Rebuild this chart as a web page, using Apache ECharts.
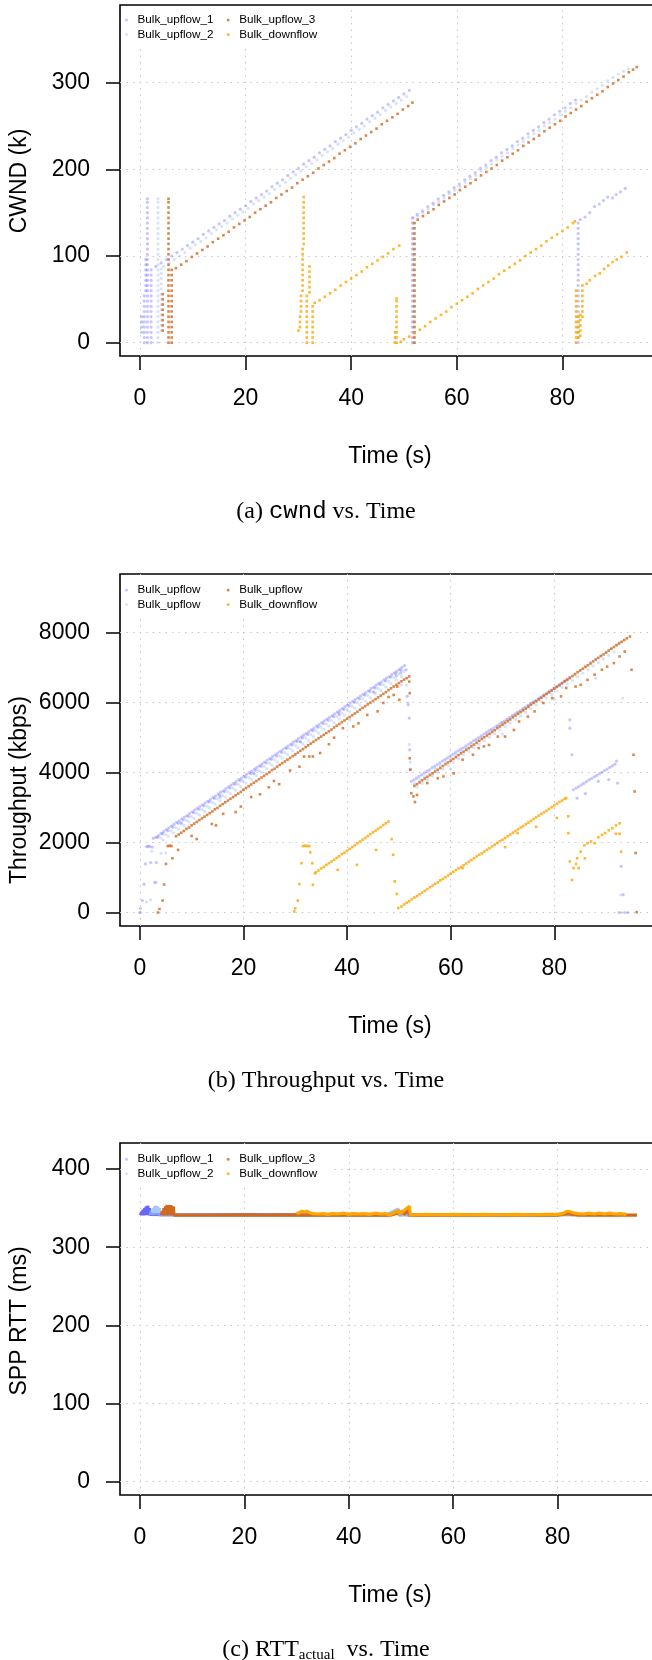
<!DOCTYPE html>
<html><head><meta charset="utf-8">
<script src="https://cdn.jsdelivr.net/npm/echarts@6/dist/echarts.min.js"></script>
<style>html,body{margin:0;padding:0;background:#fff}#c{width:652px;height:1660px}</style>
</head><body><div id="c"></div>
<script>
// ---------- tick labels / names ----------
const X_TICKS = [0, 20, 40, 60, 80];
const CWND_TICKS = [0, 100, 200, 300];
const THR_TICKS = [0, 2000, 4000, 6000, 8000];
const RTT_TICKS = [0, 100, 200, 300, 400];
const NAMES = ['Bulk_upflow_1', 'Bulk_upflow_2', 'Bulk_upflow_3', 'Bulk_downflow'];
const Y_TITLES = ['CWND (k)', 'Throughput (kbps)', 'SPP RTT (ms)'];

// ---------- (a) CWND (k) ----------
const cwndUp1 = [
[0.3,12],[0.3,18],[0.3,24],[0.3,30],
[0.8,0],[0.8,6],[0.8,12],[0.8,18],[0.8,24],[0.8,30],[0.8,36],[0.8,42],[0.8,48],[0.8,54],
[1.1,60],[1.1,66],[1.1,72],[1.1,78],[1.1,84],[1.1,90],[1.1,96],
[1.4,0],[1.4,6],[1.4,12],[1.4,18],[1.4,24],[1.4,30],[1.4,36],[1.4,42],[1.4,48],[1.4,54],[1.4,60],[1.4,66],[1.4,72],[1.4,78],[1.4,84],[1.4,90],[1.4,96],[1.4,102],[1.4,108],[1.4,114],[1.4,120],[1.4,126],[1.4,132],[1.4,138],[1.4,144],[1.4,150],[1.4,156],[1.4,162],[1.4,166],
[2.1,0],[2.1,6],[2.1,12],[2.1,18],[2.1,24],[2.1,30],[2.1,36],[2.1,42],[2.1,48],[2.1,54],[2.1,60],[2.1,66],[2.1,72],[2.1,78],[2.1,84],
[3.0,88],[4.0,92],[5.0,96],[6.0,100],[7.0,104],[8.0,108],[9.0,112],[10.0,116],[11.0,120],[12.0,125],[13.0,129],[14.0,133],[15.0,137],[16.0,141],[17.0,146],[18.0,150],[19.0,154],[20.0,158],[21.0,163],[22.0,167],[23.0,171],[24.0,175],[25.0,180],[26.0,184],[27.0,188],[28.0,193],[29.0,197],[30.0,201],[31.0,206],[32.0,210],[33.0,214],[34.0,219],[35.0,223],[36.0,227],[37.0,232],[38.0,236],[39.0,240],[40.0,245],[41.0,249],[42.0,253],[43.0,258],[44.0,262],[45.0,266],[46.0,271],[47.0,275],[48.0,279],[49.0,283],[50.0,287],[51.0,291],
[51.6,0],[51.6,6],[51.6,12],[51.6,18],[51.6,24],[51.6,30],[51.6,36],[51.6,42],[51.6,48],[51.6,54],[51.6,60],[51.6,66],[51.6,72],[51.6,78],[51.6,84],[51.6,90],[51.6,96],[51.6,102],[51.6,108],[51.6,114],[51.6,120],[51.6,126],[51.6,132],[51.6,138],[51.6,144],
[52.5,148],[53.5,152],[54.5,157],[55.5,161],[56.5,166],[57.5,170],[58.5,174],[59.5,179],[60.5,183],[61.5,188],[62.5,192],[63.5,196],[64.5,201],[65.5,205],[66.5,210],[67.5,214],[68.5,219],[69.5,223],[70.5,227],[71.5,232],[72.5,236],[73.5,241],[74.5,245],[75.5,249],[76.5,254],[77.5,258],[78.5,263],[79.5,267],[80.5,271],[81.5,276],[82.5,280],
[83.0,0],[83.0,6],[83.0,12],[83.0,18],[83.0,24],[83.0,30],[83.0,36],[83.0,42],[83.0,48],[83.0,54],[83.0,60],[83.0,66],[83.0,72],[83.0,78],[83.0,84],[83.0,90],[83.0,96],[83.0,102],[83.0,108],[83.0,114],[83.0,120],[83.0,126],[83.0,132],[83.0,138],
[83.4,142],[84.3,145],[85.2,150],[86.1,157],[87.0,160],[87.8,164],[88.6,168],[89.5,167],[90.2,171],[91.0,174],[91.9,178]
];
const cwndUp2 = [
[3.4,0],[3.4,6],[3.4,12],[3.4,18],[3.4,24],[3.4,30],[3.4,36],[3.4,42],[3.4,48],[3.4,54],[3.4,60],[3.4,66],[3.4,72],[3.4,78],[3.4,84],[3.4,90],[3.4,96],[3.4,102],[3.4,108],[3.4,114],[3.4,120],[3.4,126],[3.4,132],[3.4,138],[3.4,144],[3.4,150],[3.4,156],[3.4,162],[3.4,166],
[4.0,14],[4.0,20],[4.0,26],[4.0,32],[4.0,38],[4.0,44],[4.0,50],[4.0,56],[4.0,62],[4.0,68],[4.0,74],[4.0,80],[4.0,85],
[4.5,88],[5.5,92],[6.5,96],[7.5,100],[8.5,104],[9.5,109],[10.5,113],[11.5,117],[12.5,121],[13.5,126],[14.5,130],[15.5,134],[16.5,138],[17.5,143],[18.5,147],[19.5,151],[20.5,155],[21.5,160],[22.5,164],[23.5,168],[24.5,172],[25.5,177],[26.5,181],[27.5,185],[28.5,190],[29.5,194],[30.5,198],[31.5,203],[32.5,207],[33.5,211],[34.5,216],[35.5,220],[36.5,224],[37.5,229],[38.5,233],[39.5,237],[40.5,242],[41.5,246],[42.5,250],[43.5,255],[44.5,259],[45.5,263],[46.5,268],[47.5,272],[48.5,276],[49.5,280],[50.5,284],
[51.8,0],[51.8,6],[51.8,12],[51.8,18],[51.8,24],[51.8,30],[51.8,36],[51.8,42],[51.8,48],[51.8,54],[51.8,60],[51.8,66],[51.8,72],[51.8,78],[51.8,84],[51.8,90],[51.8,96],[51.8,102],[51.8,108],[51.8,114],[51.8,120],[51.8,126],[51.8,132],[51.8,138],[51.8,144],
[52.6,146],[53.6,150],[54.6,154],[55.6,159],[56.6,163],[57.6,167],[58.6,172],[59.6,176],[60.6,180],[61.6,185],[62.6,189],[63.6,193],[64.6,198],[65.6,202],[66.6,206],[67.6,211],[68.6,215],[69.6,219],[70.6,224],[71.6,228],[72.6,232],[73.6,237],[74.6,241],[75.6,245],[76.6,250],[77.6,254],[78.6,258],[79.6,263],[80.6,267],[81.6,271],[82.6,276],[83.6,280],[84.6,284],[85.6,289],[86.6,293],[87.6,297],[88.6,302],[89.6,306],[90.6,310],[91.6,313],[92.5,316]
];
const cwndUp3 = [
[4.3,14],[4.3,20],[4.3,26],[4.3,32],[4.3,38],[4.3,44],[4.3,50],[4.3,56],
[5.4,0],[5.4,6],[5.4,12],[5.4,18],[5.4,24],[5.4,30],[5.4,36],[5.4,42],[5.4,48],[5.4,54],[5.4,60],[5.4,66],[5.4,72],[5.4,78],[5.4,84],[5.4,90],[5.4,96],[5.4,102],[5.4,108],[5.4,114],[5.4,120],[5.4,126],[5.4,132],[5.4,138],[5.4,144],[5.4,150],[5.4,156],[5.4,162],[5.4,166],
[6.0,0],[6.0,6],[6.0,12],[6.0,18],[6.0,24],[6.0,30],[6.0,36],[6.0,42],[6.0,48],[6.0,54],[6.0,60],[6.0,66],[6.0,72],[6.0,78],[6.0,84],
[6.8,86],[7.8,90],[8.8,94],[9.8,99],[10.8,103],[11.8,107],[12.8,111],[13.8,116],[14.8,120],[15.8,124],[16.8,128],[17.8,133],[18.8,137],[19.8,141],[20.8,145],[21.8,150],[22.8,154],[23.8,158],[24.8,162],[25.8,167],[26.8,171],[27.8,175],[28.8,179],[29.8,184],[30.8,188],[31.8,192],[32.8,196],[33.8,201],[34.8,205],[35.8,209],[36.8,213],[37.8,218],[38.8,222],[39.8,226],[40.8,230],[41.8,235],[42.8,239],[43.8,243],[44.8,247],[45.8,252],[46.8,256],[47.8,260],[48.8,264],[49.8,269],[50.8,273],[51.6,277],
[52.0,0],[52.0,6],[52.0,12],[52.0,18],[52.0,24],[52.0,30],[52.0,36],[52.0,42],[52.0,48],[52.0,54],[52.0,60],[52.0,66],[52.0,72],[52.0,78],[52.0,84],[52.0,90],[52.0,96],[52.0,102],[52.0,108],[52.0,114],[52.0,120],[52.0,126],[52.0,132],[52.0,138],
[52.6,142],[53.6,146],[54.6,150],[55.6,154],[56.6,159],[57.6,163],[58.6,167],[59.6,171],[60.6,176],[61.6,180],[62.6,184],[63.6,188],[64.6,193],[65.6,197],[66.6,201],[67.6,205],[68.6,210],[69.6,214],[70.6,218],[71.6,222],[72.6,227],[73.6,231],[74.6,235],[75.6,239],[76.6,244],[77.6,248],[78.6,252],[79.6,256],[80.6,261],[81.6,265],[82.6,269],[83.6,273],[84.6,278],[85.6,282],[86.6,286],[87.6,290],[88.6,295],[89.6,299],[90.6,303],[91.6,307],[92.6,312],[93.4,315],[94.1,318]
];
const cwndDown = [
[30.0,14],[30.3,18],[30.3,24],[30.3,30],[30.5,36],[30.5,42],[30.5,48],[30.5,54],
[30.8,60],[30.8,66],[30.8,72],[30.8,78],[30.8,84],[30.8,90],[30.8,96],[30.8,102],[30.8,108],
[31.0,114],[31.0,120],[31.0,126],[31.0,132],[31.0,138],[31.0,144],[31.0,150],[31.0,156],[31.0,162],[31.0,168],
[31.6,0],[31.6,6],[31.6,12],[31.6,18],[31.6,24],[31.6,30],[31.6,36],[31.6,42],[31.6,48],[31.6,54],
[32.1,58],[32.1,64],[32.1,70],[32.1,76],[32.1,82],[32.1,88],
[32.7,0],[32.7,6],[32.7,12],[32.7,18],[32.7,24],[32.7,30],[32.7,36],[32.7,42],
[33.1,46],[34.0,49],[35.0,53],[36.0,57],[37.0,61],[38.0,66],[39.0,70],[40.0,74],[41.0,78],[42.0,82],[43.0,87],[44.0,91],[45.0,95],[46.0,99],[47.0,103],[48.0,108],[49.1,112],
[48.3,0],[48.3,6],[48.3,12],[48.6,0],[48.6,6],[48.6,12],[48.6,18],[48.6,24],[48.6,30],[48.6,36],[48.6,42],[48.6,48],[48.6,51],
[49.4,1],[50.0,4],[51.0,7],[52.0,11],[53.0,15],[54.0,19],[55.0,24],[56.0,28],[57.0,32],[58.0,36],[59.0,41],[60.0,45],[61.0,49],[62.0,53],[63.0,57],[64.0,62],[65.0,66],[66.0,70],[67.0,74],[68.0,79],[69.0,83],[70.0,87],[71.0,91],[72.0,95],[73.0,100],[74.0,104],[75.0,108],[76.0,112],[77.0,117],[78.0,121],[79.0,125],[80.0,129],[81.0,133],[82.0,138],[82.4,140],
[82.6,0],[82.6,6],[82.6,12],[82.6,18],[82.6,24],[82.6,30],[82.6,36],[82.6,42],[82.6,48],[82.6,54],[82.6,60],
[83.0,6],[83.0,12],[83.0,18],[83.0,24],[83.0,30],
[83.4,8],[83.4,14],[83.4,20],[83.4,26],[83.4,32],
[83.8,30],[83.8,36],[83.8,42],[83.8,48],[83.8,54],[83.8,60],[83.8,66],
[84.6,68],[85.2,72],[86.2,77],[87.1,80],[87.9,85],[88.7,89],[89.5,93],[90.3,96],[91.2,99],[92.2,104]
];

// ---------- (b) Throughput (kbps) ----------
const thrUp1 = [
[0.0,0],[0.1,120],[0.5,340],[0.8,810],[1.1,1390],[1.3,1880],[1.6,1900],[1.9,1890],[2.1,1430],[2.4,1870],[2.9,860],[3.2,1430],
[2.6,2120],[3.1,2150],[3.6,2200],[4.1,2260],[4.6,2310],[5.1,2370],[5.6,2420],[6.1,2470],[6.6,2520],[7.1,2580],[7.6,2620],[8.1,2680],[8.6,2730],[9.1,2770],[9.6,2830],[10.1,2880],[10.6,2930],[11.1,2980],[11.6,3030],[12.1,3080],[12.6,3130],[13.1,3180],[13.6,3230],[14.1,3290],[14.6,3330],[15.1,3390],[15.6,3440],[16.1,3480],[16.6,3540],[17.1,3590],[17.6,3640],[18.1,3690],[18.6,3740],[19.1,3800],[19.6,3840],[20.1,3900],[20.6,3950],[21.1,4000],[21.6,4040],[22.1,4100],[22.6,4150],[23.1,4200],[23.6,4250],[24.1,4300],[24.6,4360],[25.1,4400],[25.6,4460],[26.1,4510],[26.6,4560],[27.1,4610],[27.6,4660],[28.1,4710],[28.6,4760],[29.1,4810],[29.6,4870],[30.1,4910],[30.6,4970],[31.1,5020],[31.6,5070],[32.1,5120],[32.6,5170],[33.1,5220],[33.6,5270],[34.1,5330],[34.6,5370],[35.1,5430],[35.6,5480],[36.1,5530],[36.6,5580],[37.1,5630],[37.6,5680],[38.1,5730],[38.6,5780],[39.1,5830],[39.6,5890],[40.1,5930],[40.6,5990],[41.1,6040],[41.6,6090],[42.1,6140],[42.6,6190],[43.1,6240],[43.6,6290],[44.1,6340],[44.6,6400],[45.1,6440],[45.6,6500],[46.1,6550],[46.6,6590],[47.1,6650],[47.6,6700],[48.1,6740],[48.6,6800],[49.1,6850],[49.6,6900],[50.1,6950],[50.6,7010],[51.1,7060],
[3.4,2150],[4.4,2250],[5.4,2340],[6.4,2440],[7.4,2550],[8.4,2650],[9.4,2750],[10.4,2850],[11.4,2950],[12.4,3050],[13.4,3160],[14.4,3260],[15.4,3360],[16.4,3460],[17.4,3560],[18.4,3670],[19.4,3770],[20.4,3870],[21.4,3970],[22.4,4070],[23.4,4180],[24.4,4280],[25.4,4380],[26.4,4480],[27.4,4580],[28.4,4690],[29.4,4790],[30.4,4890],[31.4,4990],[32.4,5090],[33.4,5200],[34.4,5300],[35.4,5400],[36.4,5500],[37.4,5600],[38.4,5710],[39.4,5810],[40.4,5910],[41.4,6010],[42.4,6110],[43.4,6220],[44.4,6320],[45.4,6420],[46.4,6520],[47.4,6620],[48.4,6730],[49.4,6830],[50.4,6930],
[8.0,2560],[15.5,3300],[22.0,3980],[31.0,4880],[38.5,5650],[45.2,6300],[49.5,6760],[50.4,6850],
[51.4,6940],[51.6,6180],[51.8,5940],[52.0,5560],[52.1,4650],[52.2,4100],
[52.4,3750],[52.9,3790],[53.4,3840],[53.9,3890],[54.4,3940],[54.9,3990],[55.4,4040],[55.9,4080],[56.4,4140],[56.9,4180],[57.4,4230],[57.9,4280],[58.4,4330],[58.9,4380],[59.4,4420],[59.9,4470],[60.4,4520],[60.9,4570],[61.4,4620],[61.9,4670],[62.4,4710],[62.9,4760],[63.4,4810],[63.9,4860],[64.4,4910],[64.9,4950],[65.4,5000],[65.9,5050],[66.4,5100],[66.9,5150],[67.4,5200],[67.9,5240],[68.4,5290],[68.9,5340],[69.4,5390],[69.9,5440],[70.4,5480],[70.9,5530],[71.4,5580],[71.9,5630],[72.4,5680],[72.9,5720],[73.4,5770],[73.9,5820],[74.4,5870],[74.9,5920],[75.4,5970],[75.9,6010],[76.4,6060],[76.9,6110],[77.4,6160],[77.9,6210],[78.4,6250],[78.9,6300],[79.4,6350],[79.9,6400],[80.4,6450],[80.9,6490],[81.4,6540],[81.9,6590],[82.4,6640],[82.9,6690],
[83.0,5510],[83.0,5270],[83.4,4510],
[83.7,3510],[84.2,3560],[84.7,3600],[85.2,3650],[85.7,3690],[86.2,3740],[86.7,3790],[87.2,3830],[87.7,3880],[88.2,3920],[88.7,3970],[89.2,4010],[89.7,4060],[90.2,4100],[90.7,4150],[91.2,4190],[91.7,4240],[92.0,4330],
[84.4,3270],[86.0,3400],[88.5,3750],[90.5,3800],[92.2,3700],[92.9,1320],[93.3,510],[92.5,0],[93.6,0],[94.2,0]
];
const thrUp2 = [
[0.1,0],[1.3,300],[2.1,360],[3.2,860],[4.1,1690],[2.3,1750],
[4.0,2130],[5.0,2230],[6.0,2330],[7.0,2430],[8.0,2540],[9.0,2630],[10.0,2740],[11.0,2840],[12.0,2940],[13.0,3040],[14.0,3150],[15.0,3250],[16.0,3340],[17.0,3450],[18.0,3550],[19.0,3660],[20.0,3760],[21.0,3860],[22.0,3960],[23.0,4060],[24.0,4170],[25.0,4270],[26.0,4370],[27.0,4470],[28.0,4570],[29.0,4680],[30.0,4780],[31.0,4880],[32.0,4990],[33.0,5090],[34.0,5190],[35.0,5290],[36.0,5390],[37.0,5490],[38.0,5600],[39.0,5700],[40.0,5800],[41.0,5900],[42.0,6000],[43.0,6110],[44.0,6210],[45.0,6310],[46.0,6410],[47.0,6510],[48.0,6610],[49.0,6710],[50.0,6820],[51.0,6900],
[4.5,2080],[5.5,2180],[6.5,2280],[7.5,2380],[8.5,2490],[9.5,2590],[10.5,2690],[11.5,2790],[12.5,2890],[13.5,2990],[14.5,3100],[15.5,3200],[16.5,3300],[17.5,3400],[18.5,3500],[19.5,3600],[20.5,3700],[21.5,3810],[22.5,3910],[23.5,4010],[24.5,4110],[25.5,4210],[26.5,4310],[27.5,4420],[28.5,4520],[29.5,4620],[30.5,4720],[31.5,4820],[32.5,4920],[33.5,5030],[34.5,5130],[35.5,5230],[36.5,5330],[37.5,5430],[38.5,5530],[39.5,5640],[40.5,5740],[41.5,5840],[42.5,5940],[43.5,6040],[44.5,6140],[45.5,6250],[46.5,6350],[47.5,6450],[48.5,6550],[49.5,6650],[50.5,6750],
[5.0,1700],[20.0,3500],[30.0,4500],[40.5,5500],[50.5,6500],
[51.5,6500],[51.8,6000],[52.0,4800],[52.2,4300],
[53.0,3690],[54.0,3790],[55.0,3890],[56.0,3990],[57.0,4100],[58.0,4200],[59.0,4300],[60.0,4400],[61.0,4500],[62.0,4600],[63.0,4700],[64.0,4810],[65.0,4910],[66.0,5010],[67.0,5110],[68.0,5210],[69.0,5320],[70.0,5420],[71.0,5520],[72.0,5620],[73.0,5720],[74.0,5820],[75.0,5920],[76.0,6030],[77.0,6130],[78.0,6230],[79.0,6330],[80.0,6430],[81.0,6540],[82.0,6640],[83.0,6740],[84.0,6840],[85.0,6940],[86.0,7050],[87.0,7150],[88.0,7250],[89.0,7350],[90.0,7450],[91.0,7550],[92.0,7660],[92.6,7720],
[53.5,3590],[54.5,3690],[55.5,3790],[56.5,3900],[57.5,4000],[58.5,4100],[59.5,4200],[60.5,4300],[61.5,4400],[62.5,4510],[63.5,4610],[64.5,4710],[65.5,4810],[66.5,4910],[67.5,5010],[68.5,5110],[69.5,5220],[70.5,5320],[71.5,5420],[72.5,5520],[73.5,5620],[74.5,5720],[75.5,5830],[76.5,5930],[77.5,6030],[78.5,6130],[79.5,6230],[80.5,6330],[81.5,6440],[82.5,6540],[83.5,6640],[84.5,6740],[85.5,6840],[86.5,6940],[87.5,7050],[88.5,7150],[89.5,7250],[90.5,7350],[91.5,7450],
[60.0,4100],[70.0,5100],[80.0,6100],[88.0,6700],[93.2,6130],[92.8,500],[93.0,0]
];
const thrUp3 = [
[3.5,0],[3.8,100],[4.4,340],[4.7,800],[5.05,1390],[5.4,1900],[5.8,1910],[6.1,1900],[6.3,1550],[7.4,1790],
[7.0,2180],[7.5,2230],[8.0,2280],[8.5,2330],[9.0,2390],[9.5,2430],[10.0,2490],[10.5,2540],[11.0,2590],[11.5,2640],[12.0,2690],[12.5,2740],[13.0,2790],[13.5,2840],[14.0,2890],[14.5,2950],[15.0,2990],[15.5,3050],[16.0,3100],[16.5,3150],[17.0,3200],[17.5,3250],[18.0,3300],[18.5,3350],[19.0,3400],[19.5,3450],[20.0,3510],[20.5,3560],[21.0,3610],[21.5,3660],[22.0,3710],[22.5,3760],[23.0,3810],[23.5,3860],[24.0,3910],[24.5,3960],[25.0,4010],[25.5,4070],[26.0,4110],[26.5,4170],[27.0,4220],[27.5,4270],[28.0,4320],[28.5,4370],[29.0,4420],[29.5,4470],[30.0,4520],[30.5,4570],[31.0,4620],[31.5,4670],[32.0,4730],[32.5,4780],[33.0,4830],[33.5,4880],[34.0,4930],[34.5,4980],[35.0,5030],[35.5,5080],[36.0,5130],[36.5,5180],[37.0,5230],[37.5,5290],[38.0,5340],[38.5,5390],[39.0,5440],[39.5,5490],[40.0,5540],[40.5,5590],[41.0,5640],[41.5,5690],[42.0,5740],[42.5,5800],[43.0,5850],[43.5,5900],[44.0,5950],[44.5,6000],[45.0,6050],[45.5,6100],[46.0,6150],[46.5,6200],[47.0,6250],[47.5,6300],[48.0,6360],[48.5,6410],[49.0,6460],[49.5,6510],[50.0,6560],[50.5,6610],[51.0,6660],[51.5,6700],[52.0,6750],
[10.0,2190],[11.0,2100],[13.9,2530],[14.7,2490],[16.1,2820],[18.5,2870],[19.5,3030],[21.5,3300],[23.2,3380],[24.9,3580],[25.9,3760],[26.9,3670],[29.0,4060],[30.8,4170],[31.7,4460],[32.7,4460],[33.4,4460],[34.8,4560],[36.5,4810],[37.5,5000],[39.2,5270],[41.2,5320],[42.2,5410],[43.9,5650],[45.9,5750],[47.0,5990],[48.0,6160],[49.0,6220],[50.1,6080],[49.7,6460],
[52.0,6600],[52.1,6270],[52.1,4410],[52.2,4080],[52.4,3410],[53.1,3160],
[53.0,3620],[53.5,3670],[54.0,3720],[54.5,3780],[55.0,3830],[55.5,3880],[56.0,3930],[56.5,3980],[57.0,4030],[57.5,4080],[58.0,4130],[58.5,4190],[59.0,4240],[59.5,4290],[60.0,4340],[60.5,4390],[61.0,4440],[61.5,4500],[62.0,4550],[62.5,4600],[63.0,4650],[63.5,4700],[64.0,4750],[64.5,4800],[65.0,4850],[65.5,4910],[66.0,4960],[66.5,5010],[67.0,5060],[67.5,5110],[68.0,5160],[68.5,5210],[69.0,5270],[69.5,5320],[70.0,5370],[70.5,5420],[71.0,5470],[71.5,5520],[72.0,5580],[72.5,5630],[73.0,5680],[73.5,5730],[74.0,5780],[74.5,5830],[75.0,5880],[75.5,5940],[76.0,5990],[76.5,6040],[77.0,6090],[77.5,6140],[78.0,6190],[78.5,6250],[79.0,6300],[79.5,6350],[80.0,6400],[80.5,6450],[81.0,6500],[81.5,6560],[82.0,6610],[82.5,6660],[83.0,6710],[83.5,6760],[84.0,6810],[84.5,6870],[85.0,6920],[85.5,6970],[86.0,7020],[86.5,7070],[87.0,7120],[87.5,7180],[88.0,7230],[88.5,7280],[89.0,7330],[89.5,7380],[90.0,7430],[90.5,7490],[91.0,7540],[91.5,7590],[92.0,7640],[92.5,7690],[93.0,7740],[93.5,7790],[94.0,7840],[94.6,7890],
[52.8,3320],[53.5,3360],[55.5,3700],[57.5,3840],[58.6,3890],[60.6,3980],[62.3,4370],[64.3,4510],[65.4,4700],[66.4,4750],[67.4,4790],[69.1,5030],[70.5,5030],[72.2,5220],[73.2,5460],[74.9,5600],[76.2,5750],[77.9,5990],[79.6,6130],[81.3,6180],[82.3,6420],[84.1,6460],[85.1,6510],[86.4,6650],[87.8,6800],[89.2,6940],[90.2,7030],[91.5,7130],[92.6,7320],[93.6,7460],
[94.9,6940],[95.3,4510],[95.5,3460],[95.7,1700],[95.9,10]
];
const thrDown = [
[29.8,30],[30.0,120],[30.5,340],[30.8,810],[31.2,1410],[31.5,1900],[31.9,1910],[32.3,1900],[32.7,1900],[32.9,1720],[33.3,1410],[33.4,790],[33.8,1120],
[34.0,1150],[34.5,1200],[35.0,1260],[35.5,1300],[36.0,1360],[36.5,1410],[37.0,1460],[37.5,1510],[38.0,1560],[38.5,1610],[39.0,1670],[39.5,1710],[40.0,1770],[40.5,1820],[41.0,1870],[41.5,1920],[42.0,1980],[42.5,2030],[43.0,2080],[43.5,2130],[44.0,2180],[44.5,2240],[45.0,2290],[45.5,2340],[46.0,2390],[46.5,2440],[47.0,2500],[47.5,2550],[48.0,2600],
[38.2,1220],[41.9,1360],[45.6,1790],
[48.6,2100],[48.9,1650],[49.2,890],[49.6,530],[49.9,130],
[50.5,170],[51.0,230],[51.5,280],[52.0,320],[52.5,380],[53.0,430],[53.5,470],[54.0,520],[54.5,570],[55.0,620],[55.5,670],[56.0,720],[56.5,770],[57.0,820],[57.5,860],[58.0,920],[58.5,960],[59.0,1010],[59.5,1060],[60.0,1110],[60.5,1160],[61.0,1210],[61.5,1260],[62.0,1300],[62.5,1350],[63.0,1400],[63.5,1450],[64.0,1500],[64.5,1550],[65.0,1600],[65.5,1650],[66.0,1690],[66.5,1740],[67.0,1790],[67.5,1840],[68.0,1890],[68.5,1940],[69.0,1990],[69.5,2040],[70.0,2080],[70.5,2130],[71.0,2180],[71.5,2230],[72.0,2280],[72.5,2330],[73.0,2380],[73.5,2430],[74.0,2470],[74.5,2520],[75.0,2570],[75.5,2620],[76.0,2670],[76.5,2720],[77.0,2770],[77.5,2820],[78.0,2860],[78.5,2910],[79.0,2960],[79.5,3010],[80.0,3060],[80.5,3110],[81.0,3160],[81.5,3200],[82.0,3250],[82.3,3270],
[62.3,1270],[70.5,1870],[72.9,2270],[76.5,2450],[80.5,2700],
[82.7,2750],[82.7,2270],[83.0,1460],[83.4,930],[83.7,1270],[84.2,1390],[84.7,1270],[85.9,1550],
[84.4,1550],[85.1,1740],[85.8,1920],[86.4,1980],[87.1,2030],[87.8,1980],[88.5,2150],[89.2,2220],[89.8,2270],[90.5,2350],[91.2,2410],[91.9,2490],[92.6,2550],
[91.9,2250],[92.6,2250],[92.9,1740]
];

// ---------- (c) SPP RTT (ms) ----------
const rttUp1 = [
[0.1,341],[0.3,345],[0.4,341],[0.6,348],[0.7,341],[0.9,350],[1.0,342],[1.2,352],[1.3,341],[1.5,353],[1.6,341],[1.8,350],[1.9,342],
[2.0,341],[6.0,341.5],[10.0,341.2],[20.0,341.8],[30.0,341.4],[40.0,342],[46.0,341.8],[47.5,341],[49.5,347],[49.7,341],[51.2,348],[51.4,341],[60.0,341.5],[70.0,341.8],[80.0,341.5],[82.0,344],[83.0,341]
];
const rttUp2 = [
[2.0,341],[2.2,347],[2.3,341],[2.5,350],[2.6,341],[2.8,352],[2.9,341],[3.1,353],[3.2,341],[3.4,352],[3.5,341],[3.7,350],[3.8,341],
[4.0,341],[10.0,341.5],[20.0,341.2],[30.0,341.6],[40.0,341.3],[47.0,341],[49.5,349],[49.6,341],[60.0,341.4],[70.0,341.2],[80.0,341.5],[92.0,341.2]
];
const rttUp3 = [
[4.1,341],[4.3,346],[4.4,341],[4.6,350],[4.7,341],[4.9,352],[5.0,341],[5.2,354],[5.3,341],[5.5,353],[5.6,341],[5.8,354],[5.9,341],[6.1,353],[6.2,341],[6.4,352],[6.5,341],
[8.0,341],[12.0,341.2],[16.0,341],[20.0,341.3],[24.0,341],[28.0,341.4],[32.0,341],[36.0,341.3],[40.0,341],[44.0,341.2],[48.0,341],[50.5,346],[50.6,341.5],[51.5,350],[51.7,341],[56.0,341],[60.0,341.3],[64.0,341],[68.0,341.2],[72.0,341],[76.0,341.3],[80.0,341],[82.0,343],[84.0,341],[88.0,341.2],[92.0,341],[95.2,341]
];
const rttDown = [
[30.0,343],[30.5,344],[31.0,346],[31.5,345],[32.0,346],[32.5,344],[33.0,343],[34.0,342.5],[35.0,343],[36.0,342],[37.0,343],[38.0,342.5],[39.0,343.5],[40.0,342],[41.0,343],[42.0,342.5],[43.0,343],[44.0,342],[45.0,343.5],[46.0,342.5],[47.0,343],[47.8,341],[49.5,347],[49.7,342],[51.6,352.5],[51.8,341],
[53.0,341.5],[55.0,342],[57.0,341.5],[60.0,342],[63.0,341.5],[66.0,342],[69.0,341.5],[72.0,342],[75.0,341.5],[78.0,342],[80.0,342],[81.0,343],[81.5,345],[82.0,346],[82.5,345],[83.0,344],[84.0,343],[85.0,342.5],[86.0,343.5],[87.0,342.5],[88.0,343.5],[89.0,342.5],[90.0,343.5],[91.0,342.5],[92.0,343],[93.2,342]
];

// ---------- rendering ----------
const SANS = '"Liberation Sans", Arial, Helvetica, sans-serif';
const SERIF = '"Liberation Serif", "Times New Roman", serif';
const MONO = '"Liberation Mono", "Courier New", monospace';
const COLORS = ['rgba(95,95,255,0.45)', 'rgba(120,165,235,0.38)', '#d2691e', '#ffa500'];
const LINE_COLORS = ['rgba(45,45,250,0.72)', 'rgba(140,180,240,0.75)', '#d2691e', '#ffa500'];
const SYMBOLS = ['circle', 'circle', 'rect', 'rect'];
const SIZES = [3.2, 3.2, 2.6, 2.6];

const panels = [
  { data: [cwndUp1, cwndUp2, cwndUp3, cwndDown], yTicks: CWND_TICKS,
    top: 5, height: 351, x: [-3.79, 98.5], y: [-15.35, 389.6], kind: 'scatter', legendTop: 12.75, strip: false, titleY: 181 },
  { data: [thrUp1, thrUp2, thrUp3, thrDown], yTicks: THR_TICKS,
    top: 574, height: 352, x: [-3.82, 100.4], y: [-386, 9678], kind: 'scatter', legendTop: 582.75, strip: true, titleY: 790 },
  { data: [rttUp1, rttUp2, rttUp3, rttDown], yTicks: RTT_TICKS,
    top: 1143, height: 352, x: [-3.83, 99.62], y: [-17, 433.3], kind: 'line', legendTop: 1152, strip: false, titleY: 1321 }
];

const option = { animation: false, backgroundColor: '#fff', grid: [], xAxis: [], yAxis: [], series: [], legend: [], graphic: [] };
const tickStyle = { color: '#000', width: 1.5 };
const labelStyle = { fontSize: 23, fontFamily: SANS, color: '#000' };
const plain = v => String(v);

panels.forEach((p, gi) => {
  option.grid.push({ left: 120, top: p.top, width: 540, height: p.height, show: true,
    borderColor: '#000', borderWidth: 1.6, backgroundColor: 'transparent', containLabel: false, outerBoundsMode: 'none' });
  option.xAxis.push({ gridIndex: gi, type: 'value', min: p.x[0], max: p.x[1],
    axisLine: { show: false, onZero: false },
    axisTick: { show: true, inside: false, length: 14, customValues: X_TICKS, lineStyle: tickStyle },
    axisLabel: { show: true, customValues: X_TICKS, margin: 31, formatter: plain, ...labelStyle },
    splitLine: { show: false },
    name: 'Time (s)', nameLocation: 'middle', nameGap: 89, nameTextStyle: labelStyle });
  option.yAxis.push({ gridIndex: gi, type: 'value', min: p.y[0], max: p.y[1],
    axisLine: { show: false, onZero: false },
    axisTick: { show: true, inside: false, length: 14, customValues: p.yTicks, lineStyle: tickStyle },
    axisLabel: { show: true, customValues: p.yTicks, margin: 30, formatter: plain, ...labelStyle },
    splitLine: { show: false } });
  // rotated y-axis title
  option.graphic.push({ type: 'text', x: 20, y: p.titleY, rotation: Math.PI / 2, silent: true, z: 5,
    style: { text: Y_TITLES[gi], font: '23px ' + SANS, fill: '#000', align: 'center', verticalAlign: 'middle' } });
  // dotted grid lines at tick positions
  option.series.push({ type: 'scatter', name: 'grid' + gi, xAxisIndex: gi, yAxisIndex: gi, data: [], silent: true, z: 1,
    markLine: { silent: true, z: 1, symbol: ['none', 'none'], label: { show: false }, animation: false,
      lineStyle: { color: '#c8c8c8', type: [1.5, 5], width: 1 },
      data: X_TICKS.map(v => ({ xAxis: v })).concat(p.yTicks.map(v => ({ yAxis: v }))) } });
  p.data.forEach((d, si) => {
    if (p.kind === 'scatter') {
      option.series.push({ type: 'scatter', name: NAMES[si], xAxisIndex: gi, yAxisIndex: gi, data: d, silent: true,
        symbol: SYMBOLS[si], symbolSize: SIZES[si], itemStyle: { color: COLORS[si] }, z: 2 });
    } else {
      option.series.push({ type: 'line', name: NAMES[si], xAxisIndex: gi, yAxisIndex: gi, data: d, silent: true,
        showSymbol: false, symbol: 'circle', lineStyle: { width: 3.2, color: LINE_COLORS[si] },
        itemStyle: { color: LINE_COLORS[si] }, z: 2 });
    }
  });
  // white legend background box
  option.graphic.push({ type: 'rect', z: 3, silent: true,
    shape: { x: 121, y: p.top + 1, width: 211, height: 43 }, style: { fill: '#fff' } });
  const lg = { orient: 'vertical', top: p.legendTop, padding: 0, itemGap: 0, itemWidth: 12, itemHeight: 3,
    icon: 'circle', selectedMode: false, z: 4,
    textStyle: { fontSize: 11.7, fontFamily: SANS, color: '#000', lineHeight: 14.5 } };
  if (p.strip) lg.formatter = n => n.replace(/_\d$/, '');
  option.legend.push(Object.assign({}, lg, { left: 125, data: [NAMES[0], NAMES[1]] }));
  option.legend.push(Object.assign({}, lg, { left: 226.7, data: [NAMES[2], NAMES[3]] }));
});

// captions
const capRich = {
  s: { fontFamily: SERIF, fontSize: 24, fill: '#000', lineHeight: 30 },
  m: { fontFamily: MONO, fontSize: 24, fill: '#000', lineHeight: 30 },
  sub: { fontFamily: SERIF, fontSize: 15, fill: '#000', lineHeight: 30, padding: [10, 0, 0, 0] }
};
option.graphic.push({ type: 'text', x: 326, y: 511.5, silent: true,
  style: { text: '{s|(a) }{m|cwnd}{s| vs. Time}', rich: capRich, align: 'center', verticalAlign: 'middle' } });
option.graphic.push({ type: 'text', x: 326, y: 1081, silent: true,
  style: { text: '{s|(b) Throughput vs. Time}', rich: capRich, align: 'center', verticalAlign: 'middle' } });
option.graphic.push({ type: 'text', x: 326, y: 1650, silent: true,
  style: { text: '{s|(c) RTT}{sub|actual}{s|  vs. Time}', rich: capRich, align: 'center', verticalAlign: 'middle' } });

const chart = echarts.init(document.getElementById('c'), null, { renderer: 'canvas', width: 652, height: 1660 });
chart.setOption(option);
</script></body></html>
